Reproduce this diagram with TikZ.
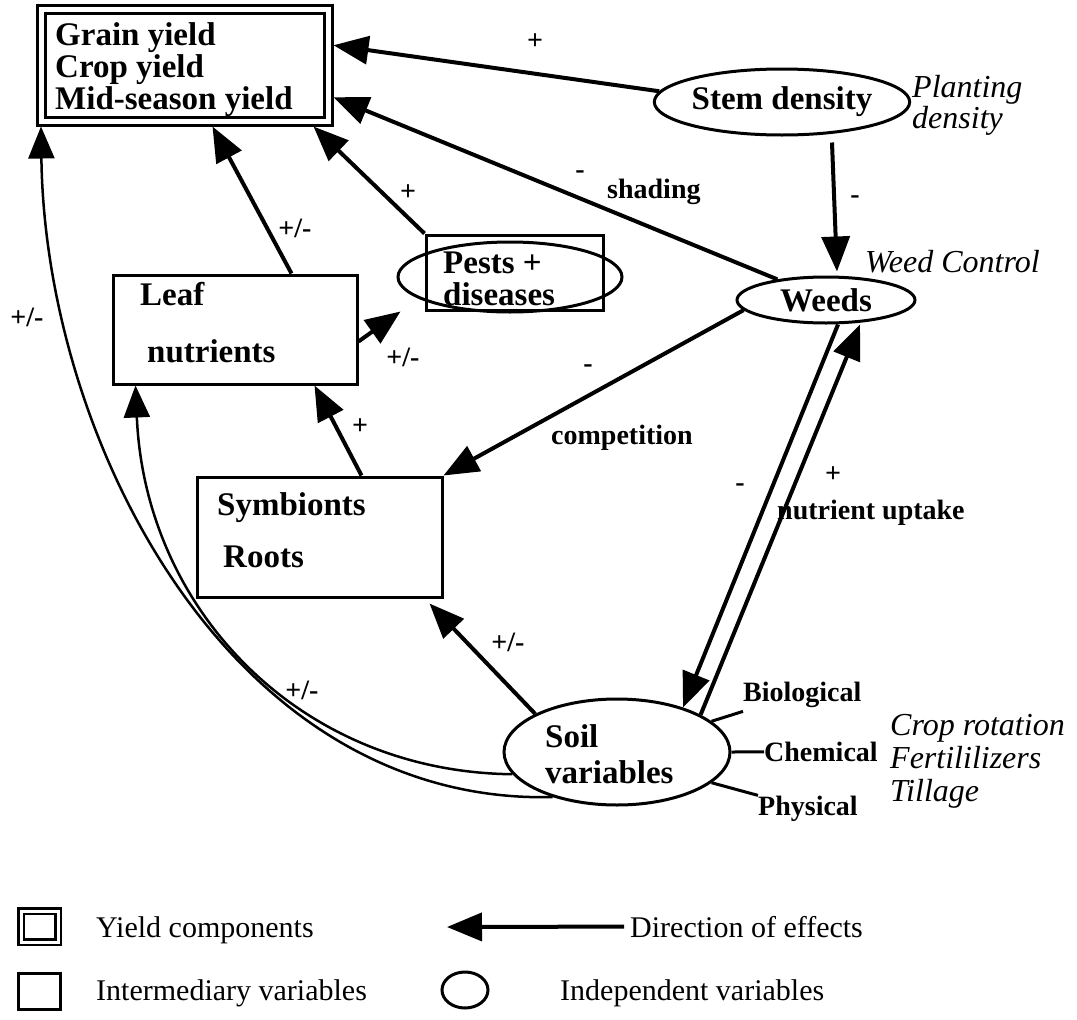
\documentclass[tikz,border=0pt]{standalone}
\usepackage{fontspec}
\setmainfont{Liberation Serif}
\usetikzlibrary{arrows.meta,shapes.geometric}
\begin{document}
\begin{tikzpicture}[x=1pt,y=-1pt,
  big/.style={font=\fontsize{33}{37}\selectfont\bfseries},
  lab/.style={font=\fontsize{28}{32}\selectfont\bfseries, inner sep=0pt},
  ital/.style={font=\fontsize{32}{36}\selectfont\itshape},
  leg/.style={font=\fontsize{30}{34}\selectfont},
  txt/.style={inner sep=0pt, anchor=base west},
  box/.style={draw, line width=3pt, inner sep=0pt},
  ell/.style={draw, ellipse, line width=3pt, inner sep=0pt},
  arr/.style={line width=4pt, -{Triangle[length=35pt,width=28pt]}},
  curv/.style={line width=2.5pt, -{Triangle[length=32pt,width=26pt]}},
  tickline/.style={line width=3pt},
]
\useasboundingbox (0,0) rectangle (1077,1020);

% ---- nodes ----
\node[box, double, double distance=5pt, minimum width=286.5pt, minimum height=111.5pt, outer sep=5.5pt] (yield) at (184.75,65.25) {};
\node[txt,big] (g1) at (55,45) {Grain yield};
\node[txt,big] (g2) at (55,77) {Crop yield};
\node[txt,big] (g3) at (55,109) {Mid-season yield};

\node[ell, big, minimum width=254pt, minimum height=66pt] (stem) at (782,102) {Stem density};
\node[txt,ital] (pl1) at (912,97) {Planting};
\node[txt,ital] (pl2) at (912,128) {density};

\node[txt,ital] (wc) at (865,272) {Weed Control};
\node[ell, big, minimum width=178pt, minimum height=46pt] (weeds) at (826,300) {Weeds};

\node[box, minimum width=177pt, minimum height=75pt] (pestsbox) at (514.5,272.5) {};
\node[ell, minimum width=224pt, minimum height=70pt] (pestsell) at (510,277) {};
\node[txt,big] (p1) at (443,273) {Pests +};
\node[txt,big] (p2) at (443,305) {diseases};

\node[box, minimum width=244pt, minimum height=109pt] (leaf) at (235,329.5) {};
\node[txt,big] (lf1) at (140,305) {Leaf};
\node[txt,big] (lf2) at (147,362) {nutrients};

\node[box, minimum width=245pt, minimum height=120pt] (sym) at (319.5,537) {};
\node[txt,big] (s1) at (217,515) {Symbionts};
\node[txt,big] (s2) at (223,567) {Roots};

\node[ell, minimum width=226pt, minimum height=106pt] (soil) at (617,752) {};
\node[txt,big] (so1) at (545,747) {Soil};
\node[txt,big] (so2) at (545,783) {variables};

\node[txt,lab] (bio) at (743,701) {Biological};
\node[txt,lab] (chem) at (764,761.5) {Chemical};
\node[txt,lab] (phys) at (758,815) {Physical};
\node[txt,ital] (cr) at (890,735) {Crop rotation};
\node[txt,ital] (fe) at (890,768) {Fertililizers};
\node[txt,ital] (ti) at (890,801) {Tillage};

% ---- labels ----
\node[lab] (l1) at (535,42) {+};
\node[lab] (l2) at (580,175) {-};
\node[txt,lab] (l3) at (607,198) {shading};
\node[lab] (l4) at (855,200) {-};
\node[lab] (l5) at (408,193) {+};
\node[lab] (l6) at (295,228) {+/-};
\node[lab] (l7) at (403,357) {+/-};
\node[lab] (l8) at (27,317) {+/-};
\node[lab] (l9) at (360,427) {+};
\node[lab] (l10) at (588,369) {-};
\node[lab] (l11) at (622,438) {competition};
\node[lab] (l12) at (740,488) {-};
\node[lab] (l13) at (833,475) {+};
\node[txt,lab] (l14) at (777,519) {nutrient uptake};
\node[lab] (l15) at (508,642) {+/-};
\node[lab] (l16) at (302,690) {+/-};

% ---- connectors ----
\draw[arr] (stem.175) -- ([yshift=20pt]yield.east);
\draw[arr] (weeds.157) -- ([yshift=-32pt]yield.east);
\draw[arr] ([xshift=50pt,yshift=-6pt]stem.south) -- ([xshift=11pt,yshift=4pt]weeds.north);
\draw[arr] (pestsbox.north west) -- ([xshift=-20pt]yield.south east);
\draw[arr] ([xshift=-67pt]leaf.north east) -- ([xshift=-121pt]yield.south east);
\draw[arr] ([yshift=-12pt]leaf.east) -- ([xshift=-24pt]pestsbox.south west);
\draw[arr] ([xshift=-82pt]sym.north east) -- ([xshift=-44pt]leaf.south east);
\draw[arr] (weeds.187) -- (sym.north east);
\draw[arr] (soil.155) -- ([xshift=-14pt,yshift=-5pt]sym.south east);
\draw[arr] ([xshift=12pt]weeds.south) -- (soil.34);
\draw[arr] (soil.24) -- ([xshift=34pt]weeds.south);
\draw[curv] (soil.215) .. controls (230,805) and (45,440) .. ([xshift=5pt]yield.south west);
\draw[curv] (soil.192) .. controls (300,772) and (145,610) .. ([xshift=24pt]leaf.south west);

\draw[tickline] (soil.18) -- ([yshift=-4pt]bio.south west);
\draw[tickline] (soil.east) -- (chem.west);
\draw[tickline] (soil.-18) -- (phys.north west);

% ---- legend ----
\node[box, double, double distance=3pt, line width=2.5pt, minimum width=37pt, minimum height=31pt] (legyield) at (39.5,926.5) {};
\node[txt,leg] (legyt) at (96,937) {Yield components};
\coordinate (legtip) at (447,927);
\node[txt,leg] (legdir) at (630,937) {Direction of effects};
\draw[arr] ([xshift=-6pt]legdir.west) -- (legtip);
\node[box, minimum width=42pt, minimum height=36pt] (legint) at (39.5,991) {};
\node[txt,leg] (legit) at (96,1000) {Intermediary variables};
\node[ell, minimum width=46pt, minimum height=36pt] (legind) at (465,990) {};
\node[txt,leg] (legid) at (560,1000) {Independent variables};
\end{tikzpicture}
\end{document}
